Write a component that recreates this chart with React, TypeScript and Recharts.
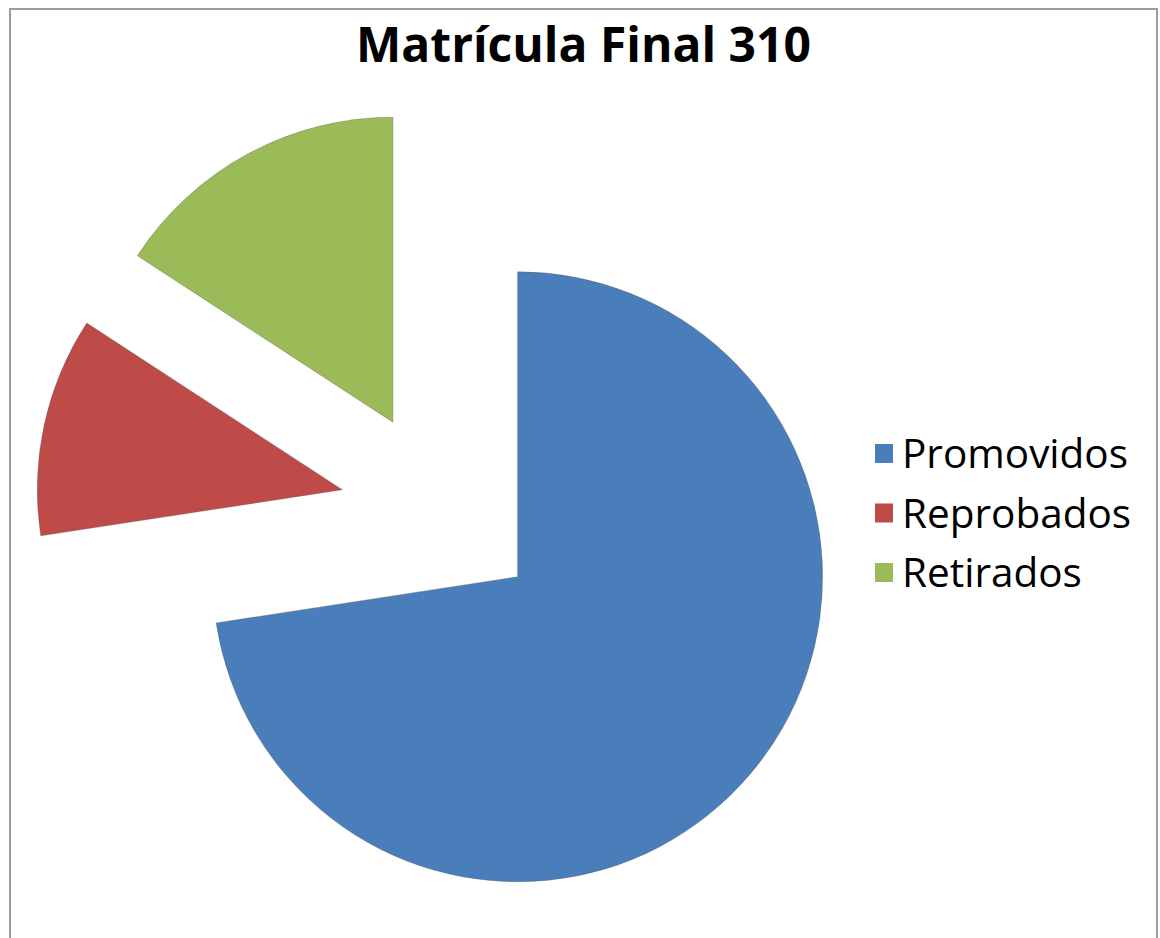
import React from 'react';
import { PieChart, Pie, Cell, Sector, Legend } from 'recharts';

const categories = ['Promovidos', 'Reprobados', 'Retirados'];
const values = [225, 36, 49];
const sliceColors = ['#4A7EBB', '#BE4B48', '#9BBB59'];
const title = 'Matrícula Final 310';

const data = categories.map((name, i) => ({ name, value: values[i] }));

const RADIAN = Math.PI / 180;
const EXPLODE = 101;

// every slice is pulled out of the centre along its mid angle, like Excel's "explode"
const explodedSector = (props: any) => {
  const { cx, cy, midAngle } = props;
  const dx = EXPLODE * Math.cos(-midAngle * RADIAN);
  const dy = EXPLODE * Math.sin(-midAngle * RADIAN);
  return <Sector {...props} cx={cx + dx} cy={cy + dy} />;
};

const renderLegend = (props: any) => {
  const { payload } = props;
  return (
    <svg width={300} height={190}>
      {(payload || []).map((entry: any, i: number) => (
        <g key={`leg-${i}`}>
          <rect x={15} y={24 + i * 59.5} width={18} height={19} fill={entry.color} />
          <text
            x={42}
            y={48 + i * 59.5}
            fontFamily="'Open Sans', sans-serif"
            fontSize={40.5}
            fill="#000"
          >
            {entry.value}
          </text>
        </g>
      ))}
    </svg>
  );
};

export default function App() {
  return (
    <div style={{ position: 'absolute', left: 0, top: 0, width: 1160, height: 938, background: '#fff', overflow: 'hidden' }}>
      <div
        style={{
          position: 'absolute',
          left: 9,
          top: 8,
          width: 1145,
          height: 940,
          borderTop: '2px solid #9c9c9c',
          borderLeft: '2px solid #9c9c9c',
          borderRight: '2px solid #9c9c9c',
        }}
      />
      <div
        style={{
          position: 'absolute',
          left: 0,
          top: 11,
          width: 1167,
          textAlign: 'center',
          fontFamily: "'Open Sans', sans-serif",
          fontWeight: 700,
          fontSize: 48,
          lineHeight: 'normal',
          color: '#000',
        }}
      >
        {title}
      </div>
      <div style={{ position: 'absolute', left: 0, top: 0 }}>
        <PieChart width={1160} height={938} margin={{ top: 0, right: 0, bottom: 0, left: 0 }}>
          <Pie
            data={data}
            dataKey="value"
            nameKey="name"
            cx={441}
            cy={511}
            outerRadius={305}
            startAngle={90}
            endAngle={-270}
            stroke="rgba(90,90,90,0.35)"
            strokeWidth={1}
            shape={explodedSector}
            activeShape={explodedSector}
            inactiveShape={explodedSector}
            isAnimationActive={false}
          >
            {data.map((entry, index) => (
              <Cell key={`cell-${index}`} fill={sliceColors[index]} />
            ))}
          </Pie>
          <Legend
            layout="vertical"
            align="center"
            verticalAlign="middle"
            content={renderLegend}
            wrapperStyle={{ position: 'absolute', left: 860, top: 420, width: 300, height: 190 }}
          />
        </PieChart>
      </div>
    </div>
  );
}
